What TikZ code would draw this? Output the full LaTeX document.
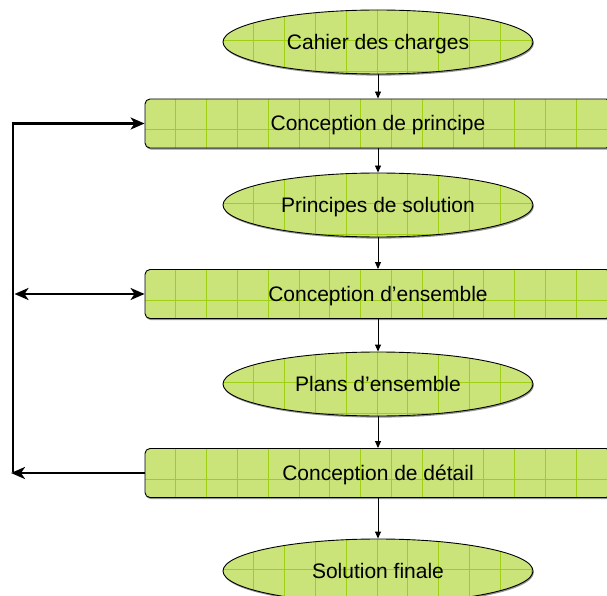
\documentclass[tikz,border=0pt]{standalone}
\usepackage{fontspec}
\setmainfont{Liberation Sans}
\usetikzlibrary{shapes.geometric,arrows.meta,shadows}
\definecolor{boxfill}{RGB}{202,228,122}
\definecolor{gridgreen}{RGB}{160,208,20}
\tikzset{fbtip/.tip={Stealth[length=14pt,width=12pt,inset=4pt]}}
\begin{document}
\begin{tikzpicture}[x=1pt,y=1pt,
  gridfill/.style={fill=boxfill,
    drop shadow={shadow xshift=0.8pt,shadow yshift=-1.6pt,fill=black!60,opacity=0.7},
    path picture={
      \foreach \k in {1,...,16}{
        \draw[gridgreen,line width=0.8pt]
          ([xshift=\k*30.8pt]path picture bounding box.north west) --
          ([xshift=\k*30.8pt]path picture bounding box.south west);}
      \foreach \k in {1,2}{
        \draw[gridgreen,line width=0.8pt]
          ([yshift=-\k*30.8pt]path picture bounding box.north west) --
          ([yshift=-\k*30.8pt]path picture bounding box.north east);}
    }},
  lbl/.style={font=\fontsize{21}{25}\selectfont,text height=15pt,text depth=0pt},
  ell/.style={ellipse,draw=black,line width=0.9pt,gridfill,minimum width=310pt,
    minimum height=64pt,inner sep=0pt,lbl},
  rbox/.style={rectangle,rounded corners=5pt,draw=black,line width=0.9pt,gridfill,
    minimum width=466pt,minimum height=49pt,inner sep=0pt,lbl},
  flow/.style={-{Stealth[length=7pt,width=6pt,inset=0pt]},line width=0.9pt},
  fb/.style={line width=2.6pt}
]
\useasboundingbox (0,0) rectangle (607,-596);
\clip (0,0) rectangle (607,-596);

\node[ell]  (e1) at (378,-42)    {Cahier des charges};
\node[rbox] (r1) at (378,-123.5) {Conception de principe};
\node[ell]  (e2) at (378,-205)   {Principes de solution};
\node[rbox] (r2) at (378,-294)   {Conception d’ensemble};
\node[ell]  (e3) at (378,-384)   {Plans d’ensemble};
\node[rbox] (r3) at (378,-473)   {Conception de détail};
\node[ell]  (e4) at (378,-571)   {Solution finale};

\draw[flow] (e1.south) -- (r1.north);
\draw[flow] (r1.south) -- (e2.north);
\draw[flow] (e2.south) -- (r2.north);
\draw[flow] (r2.south) -- (e3.north);
\draw[flow] (e3.south) -- (r3.north);
\draw[flow] (r3.south) -- (e4.north);

\coordinate (c1) at (13,-123.5);
\coordinate (c2) at (14.5,-294);
\coordinate (c3) at (11,-473);
\coordinate (c3v) at (13,-473);

\draw[fb] ([yshift=1.3pt]c3v) -- ([yshift=-1.3pt]c1);
\draw[fb,-fbtip] ([xshift=-1.3pt]c1) -- (r1.west);
\draw[fb,fbtip-fbtip] (c2) -- (r2.west);
\draw[fb,-fbtip] (r3.west) -- (c3);
\end{tikzpicture}
\end{document}
